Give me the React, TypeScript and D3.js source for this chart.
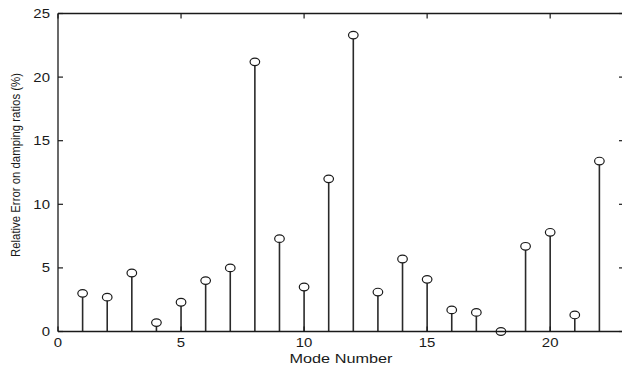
import React from 'react';
import * as d3 from 'd3';

// mode numbers and relative error on damping ratios (%)
const modes = [1, 2, 3, 4, 5, 6, 7, 8, 9, 10, 11, 12, 13, 14, 15, 16, 17, 18, 19, 20, 21, 22];
const errors = [3.0, 2.7, 4.6, 0.7, 2.3, 4.0, 5.0, 21.2, 7.3, 3.5, 12.0, 23.3, 3.1, 5.7, 4.1, 1.7, 1.5, 0.0, 6.7, 7.8, 1.3, 13.4];
const xTicks = [0, 5, 10, 15, 20];
const yTicks = [0, 5, 10, 15, 20, 25];

const width = 622;
const height = 367;
const margin = { top: 13.5, right: -2, bottom: 35.5, left: 58 };

const App: React.FC = () => {
  const x = d3.scaleLinear()
    .domain([0, 23])
    .range([margin.left, width - margin.right]);
  const y = d3.scaleLinear()
    .domain([0, 25])
    .range([height - margin.bottom, margin.top]);

  const x0 = x.range()[0];
  const x1 = x.range()[1];
  const yb = y.range()[0];
  const yt = y.range()[1];
  const tickLen = 5;
  const ink = '#1a1a1a';
  const font = 'Liberation Sans, Arial, sans-serif';

  return (
    <svg width={width} height={height} style={{ position: 'absolute', left: 0, top: 0, background: '#fff' }}>
      {/* stems */}
      {modes.map((m, i) => (
        <line key={'s' + m} x1={x(m)} x2={x(m)} y1={yb} y2={y(errors[i])} stroke="#2a2a2a" strokeWidth={1.6} />
      ))}
      {/* markers */}
      {modes.map((m, i) => (
        <ellipse key={'m' + m} cx={x(m)} cy={y(errors[i])} rx={4.8} ry={3.8} fill="#fff" stroke={ink} strokeWidth={1.2} />
      ))}

      {/* frame */}
      <line x1={x0} x2={x1} y1={yb} y2={yb} stroke={ink} strokeWidth={1.3} />
      <line x1={x0} x2={x1} y1={yt} y2={yt} stroke={ink} strokeWidth={1.3} />
      <line x1={x0} x2={x0} y1={yt} y2={yb} stroke={ink} strokeWidth={1.3} />
      <line x1={x1} x2={x1} y1={yt} y2={yb} stroke={ink} strokeWidth={1.3} />

      {/* x ticks */}
      {xTicks.map(t => (
        <g key={'xt' + t}>
          <line x1={x(t)} x2={x(t)} y1={yb} y2={yb - tickLen} stroke={ink} strokeWidth={1.2} />
          <line x1={x(t)} x2={x(t)} y1={yt} y2={yt + tickLen} stroke={ink} strokeWidth={1.2} />
          <text x={x(t)} y={yb + 15.5} textAnchor="middle" fontFamily={font} fontSize={13}
            fill={ink} transform={`translate(${x(t)},0) scale(1.15,1) translate(${-x(t)},0)`}>{t}</text>
        </g>
      ))}

      {/* y ticks */}
      {yTicks.map(t => (
        <g key={'yt' + t}>
          <line x1={x0} x2={x0 + tickLen} y1={y(t)} y2={y(t)} stroke={ink} strokeWidth={1.2} />
          <line x1={x1} x2={x1 - tickLen} y1={y(t)} y2={y(t)} stroke={ink} strokeWidth={1.2} />
          <text x={x0 - 8} y={y(t) + 4.5} textAnchor="end" fontFamily={font} fontSize={13}
            fill={ink} transform={`translate(${x0 - 8},0) scale(1.15,1) translate(${-(x0 - 8)},0)`}>{t}</text>
        </g>
      ))}

      {/* axis titles */}
      <text x={(x0 + x1) / 2} y={363} textAnchor="middle" fontFamily={font} fontSize={12.5}
        fill={ink} textLength={103} lengthAdjust="spacingAndGlyphs">Mode Number</text>
      <text transform={`translate(20,165) rotate(-90)`} textAnchor="middle" fontFamily={font} fontSize={13.5}
        fill={ink} textLength={184} lengthAdjust="spacingAndGlyphs">Relative Error on damping ratios (%)</text>
    </svg>
  );
};

export default App;
